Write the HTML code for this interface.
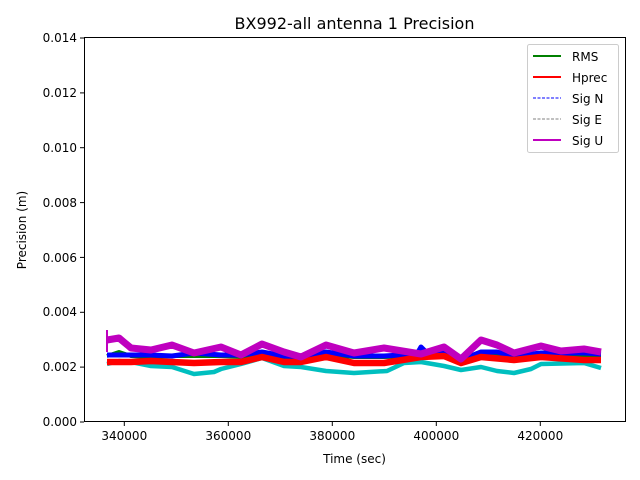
<!DOCTYPE html>
<html><head><meta charset="utf-8"><style>body{margin:0;background:#fff}svg{display:block}text{font-family:"DejaVu Sans","Liberation Sans",sans-serif;fill:#000}</style></head><body>
<svg width="640" height="480" viewBox="0 0 640 480">
<rect width="640" height="480" fill="#fff"/>
<text x="354.5" y="29" font-size="16" text-anchor="middle">BX992-all antenna 1 Precision</text>
<g fill="none" stroke-linejoin="round">
<polyline stroke="#00bfbf" stroke-width="4.5" points="107,364 119,361 131,362 151,366 172,367 194,374 214,372 221,369 241,364 262,358 284,366 301,367 326,371 354,373 387,371 404,363 421,362 444,366 461,370 481,367 497,371 514,373 531,369 541,364 584,363 601,368"/>
<polyline stroke="#008000" stroke-width="4" points="107,356 119,352 131,356 151,357 172,356 194,356 221,356 241,357 262,353 284,357 301,358 326,355 354,357 384,357 421,356 444,354 461,360 481,355 497,355 514,357 541,355 561,355 584,356 601,356"/>
<polyline stroke="#0000ff" stroke-width="5" points="107,355 131,355 151,355 172,356 194,353 221,355 241,355 262,352 284,356 301,357 326,352 354,356 384,356 417,354 421,347 426,352 444,352 461,360 481,352 497,352 514,356 541,353 584,353 601,354"/>
<polyline stroke="#ff0000" stroke-width="6.5" points="107,362 131,362 151,361 172,362 194,363 221,362 241,362 262,357 284,362 301,362 326,357 354,363 384,363 421,357 444,356 461,363 481,357 514,360 541,357 584,360 601,360"/>
<polyline stroke="#bf00bf" stroke-width="7" points="107,340 119,338 131,348 151,350 172,345 194,353 221,347 241,355 262,344 284,352 301,357 326,345 354,353 384,348 421,354 444,347 461,359 481,340 497,345 514,353 541,346 561,351 584,349 601,352"/>
<line x1="107" y1="330" x2="107" y2="352" stroke="#bf00bf" stroke-width="2"/>
</g>
<rect x="84.5" y="37.5" width="541" height="384" fill="none" stroke="#000" stroke-width="1"/>
<g stroke="#000" stroke-width="1">
<line x1="80" y1="422" x2="84" y2="422"/><line x1="80" y1="367.1" x2="84" y2="367.1"/><line x1="80" y1="312.3" x2="84" y2="312.3"/><line x1="80" y1="257.4" x2="84" y2="257.4"/><line x1="80" y1="202.6" x2="84" y2="202.6"/><line x1="80" y1="147.7" x2="84" y2="147.7"/><line x1="80" y1="92.9" x2="84" y2="92.9"/><line x1="80" y1="38" x2="84" y2="38"/>
<line x1="124.3" y1="422" x2="124.3" y2="426"/><line x1="228.3" y1="422" x2="228.3" y2="426"/><line x1="332.3" y1="422" x2="332.3" y2="426"/><line x1="436.3" y1="422" x2="436.3" y2="426"/><line x1="540.3" y1="422" x2="540.3" y2="426"/>
</g>
<g font-size="12" text-anchor="end">
<text x="77" y="426">0.000</text><text x="77" y="371">0.002</text><text x="77" y="316">0.004</text><text x="77" y="262">0.006</text><text x="77" y="207">0.008</text><text x="77" y="152">0.010</text><text x="77" y="97">0.012</text><text x="77" y="42">0.014</text>
</g>
<g font-size="12" text-anchor="middle">
<text x="124.3" y="440">340000</text><text x="228.3" y="440">360000</text><text x="332.3" y="440">380000</text><text x="436.3" y="440">400000</text><text x="540.3" y="440">420000</text>
<text x="354.5" y="463">Time (sec)</text>
</g>
<text font-size="12" text-anchor="middle" transform="translate(26,230) rotate(-90)">Precision (m)</text>
<rect x="527.5" y="44.5" width="91" height="108" rx="2" fill="#fff" stroke="#ccc"/>
<g stroke-width="2">
<line x1="533" y1="56" x2="561" y2="56" stroke="#008000"/>
<line x1="533" y1="77" x2="561" y2="77" stroke="#ff0000"/>
<line x1="533" y1="98" x2="561" y2="98" stroke="#0000ff" stroke-width="1" stroke-dasharray="3,1.5"/>
<line x1="533" y1="119" x2="561" y2="119" stroke="#808080" stroke-width="1" stroke-dasharray="3,1.5"/>
<line x1="533" y1="140" x2="561" y2="140" stroke="#bf00bf"/>
</g>
<g font-size="12">
<text x="572" y="61">RMS</text><text x="572" y="82">Hprec</text><text x="572" y="103">Sig N</text><text x="572" y="124">Sig E</text><text x="572" y="145">Sig U</text>
</g>
</svg>
</body></html>
